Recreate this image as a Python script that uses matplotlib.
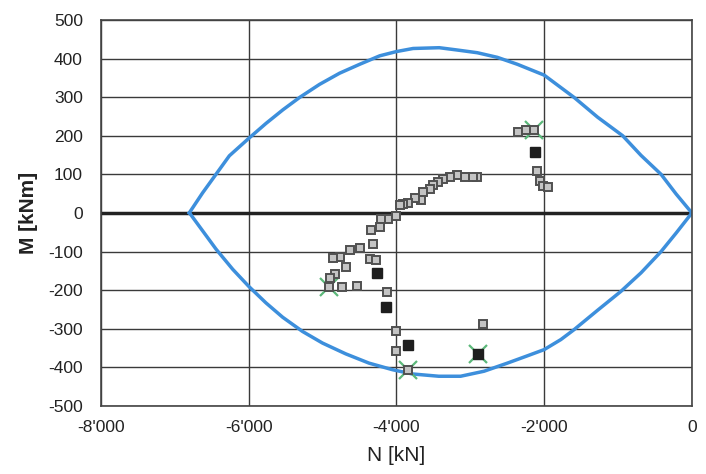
import numpy as np
import matplotlib
matplotlib.use('Agg')
import matplotlib.pyplot as plt
from matplotlib.ticker import FuncFormatter, MultipleLocator

plt.rcParams['font.family'] = ['Liberation Sans', 'DejaVu Sans']
plt.rcParams['axes.unicode_minus'] = False

# Interaction curve (upper and lower branch)
n_upper = [-6805, -6624, -6443, -6262, -6000, -5765, -5538, -5312, -5041, -4769, -4498, -4226, -4000,
           -3774, -3420, -3176, -2905, -2633, -2362, -2000, -1593, -1276, -937, -688, -417, -213, 0]
m_upper = [0, 52, 100, 148, 193, 232, 267, 299, 333, 362, 385, 407, 418,
           426, 428, 422, 415, 403, 385, 357, 299, 248, 200, 149, 100, 49, 0]
n_lower = [-6801, -6621, -6441, -6216, -6000, -5766, -5541, -5271, -5001, -4686, -4371, -4054, -3786,
           -3426, -3131, -2814, -2498, -2226, -2000, -1774, -1593, -1276, -960, -688, -417, -213, 0]
m_lower = [0, -47, -94, -146, -190, -233, -270, -307, -337, -365, -389, -406, -417,
           -423, -423, -410, -389, -370, -354, -328, -302, -252, -203, -155, -100, -52, 0]

# Measured points (open squares)
n_open = [-2350, -2245, -2137, -2092, -2056, -2011, -1943,
          -2915, -2969, -3073, -3186, -3277, -3368, -3435, -3503, -3548, -3639, -3661, -3752, -3843,
          -3910, -3955, -4000, -4114, -4204, -4227, -4339, -4317, -4498, -4634, -4770, -4860,
          -4362, -4272, -4679, -4838, -4905, -4915, -4733, -4535, -4128, -4000, -4010, -3842, -2825]
m_open = [210, 215, 215, 109, 83, 70, 67,
          93, 93, 93, 97, 93, 87, 80, 72, 62, 55, 33, 40, 26,
          23, 20, -9, -15, -15, -37, -43, -80, -91, -96, -115, -116,
          -119, -123, -139, -158, -169, -193, -191, -189, -206, -306, -358, -408, -288]

# Filled squares
n_filled = [-2123, -4263, -4136, -3842, -2893]
m_filled = [159, -156, -243, -342, -365]

# Green crosses
n_cross = [-2137, -4915, -3842, -2893]
m_cross = [215, -193, -408, -365]

fig = plt.figure(figsize=(7.06, 4.74), dpi=100, facecolor='white')
ax = fig.add_axes([0.143, 0.1435, 0.837, 0.8145])

ax.set_xlim(-8000, 0)
ax.set_ylim(-500, 500)
ax.xaxis.set_major_locator(MultipleLocator(2000))
ax.yaxis.set_major_locator(MultipleLocator(100))
ax.grid(True, color='#3a3a3a', linewidth=1.0)
ax.set_axisbelow(True)
ax.axhline(0, color='#222222', linewidth=2.5, zorder=1)

ax.plot(n_upper, m_upper, color='#3d8fdc', linewidth=2.5, zorder=2)
ax.plot(n_lower, m_lower, color='#3d8fdc', linewidth=2.5, zorder=2)

ax.plot(n_cross, m_cross, linestyle='none', marker='x', markersize=13,
        markeredgewidth=1.6, color='#5cb87a', zorder=3)
ax.plot(n_open, m_open, linestyle='none', marker='s', markersize=6,
        markerfacecolor='#c4c4c4', markeredgecolor='#505050', markeredgewidth=1.4, zorder=4)
ax.plot(n_filled, m_filled, linestyle='none', marker='s', markersize=6.5,
        markerfacecolor='#1e1e1e', markeredgecolor='#1e1e1e', zorder=5)

def fmt_thousands(v, pos):
    v = int(round(v))
    if v == 0:
        return '0'
    s = f"{abs(v):,}".replace(',', "'")
    return ('-' if v < 0 else '') + s

ax.xaxis.set_major_formatter(FuncFormatter(fmt_thousands))
ax.tick_params(axis='both', length=0, labelsize=12.5, labelcolor='#222222')
ax.tick_params(axis='x', pad=10)
ax.tick_params(axis='y', pad=13)

for s in ax.spines.values():
    s.set_color('#444444')
    s.set_linewidth(1.2)

ax.set_xlabel('N [kN]', fontsize=15, color='#222222', labelpad=8)
ax.set_ylabel('M [kNm]', fontsize=15, fontweight='bold', color='#222222', labelpad=7)

plt.savefig('out.png', dpi=100, facecolor='white')
plt.close()
